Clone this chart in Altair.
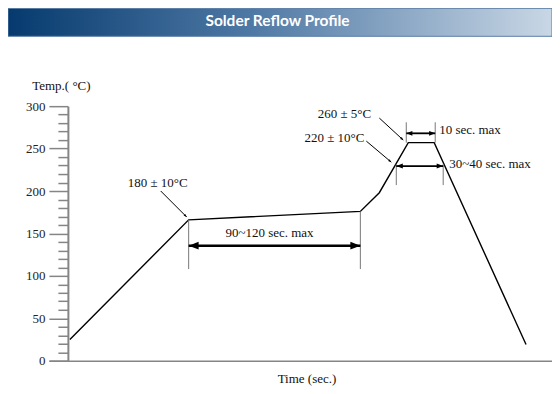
import altair as alt
import pandas as pd

# ---- data (time in arbitrary schematic units, temp in °C) ----
profile_time = [2, 121, 293, 312, 341, 367, 459]
profile_temp = [25, 166, 176, 198, 257, 257, 19]

y_tick_values = list(range(0, 301, 10))

label_text = ["180 ± 10°C", "90~120 sec. max", "260 ± 5°C", "220 ± 10°C", "10 sec. max", "30~40 sec. max"]
label_time = [90, 202, 277, 267, 372, 382]
label_temp = [205, 146, 286, 258, 267, 227]
label_align = ["center", "center", "center", "center", "left", "left"]

# gray bracket (extension) lines
ext_time = [121, 293, 339, 368, 329, 376]
ext_temp_a = [166, 176, 257, 257, 232, 232]
ext_temp_b = [108, 108, 281, 281, 207, 207]

# double-headed dimension arrows
dim_start = [121, 339, 329]
dim_end = [293, 368, 376]
dim_temp = [135.6, 268, 229.4]
dim_width = [2.5, 1.8, 1.8]
dim_head = [400, 150, 170]

# leader lines pointing at the profile
lead_time_a = [93, 312, 299]
lead_temp_a = [200, 286, 258.8]
lead_time_b = [119, 336, 324]
lead_temp_b = [169.4, 260, 234]
lead_angle = [45, 42, 40]

title_text = "Solder Reflow Profile"

SERIF = "Liberation Serif"
AXIS_GRAY = "#858585"

# ---- tables ----
profile = pd.DataFrame({"t": profile_time, "temp": profile_temp})
labels = pd.DataFrame({"text": label_text, "t": label_time, "temp": label_temp, "align": label_align})
ext = pd.DataFrame({"t": ext_time, "a": ext_temp_a, "b": ext_temp_b})
dims = pd.DataFrame({"t1": dim_start, "t2": dim_end, "temp": dim_temp, "w": dim_width})
leads = pd.DataFrame({"t1": lead_time_a, "y1": lead_temp_a, "t2": lead_time_b, "y2": lead_temp_b})

heads_rows = []
for s, e, tp, hs in zip(dim_start, dim_end, dim_temp, dim_head):
    heads_rows.append({"t": e, "temp": tp, "angle": 0, "size": hs})
    heads_rows.append({"t": s, "temp": tp, "angle": 180, "size": hs})
for tb, yb, ang in zip(lead_time_b, lead_temp_b, lead_angle):
    heads_rows.append({"t": tb, "temp": yb, "angle": ang, "size": 40})
heads = pd.DataFrame(heads_rows)

xscale = alt.Scale(domain=[-19, 485], nice=False, zero=False)
yscale = alt.Scale(domain=[0, 300], nice=False)

x_axis = alt.Axis(
    ticks=False, labels=False, grid=False,
    domainColor=AXIS_GRAY, domainWidth=1.5,
    title="Time (sec.)", titleFont=SERIF, titleFontSize=13, titleFontWeight="normal",
    titleColor="#111", titleX=258, titleY=22, titleBaseline="alphabetic", titleAnchor="middle",
)
y_axis = alt.Axis(
    values=y_tick_values, offset=-19, grid=False,
    labelExpr="datum.value % 50 === 0 ? datum.label : ''",
    tickSize={"condition": {"test": "datum.value % 50 === 0", "value": 19}, "value": 10},
    tickColor=AXIS_GRAY, tickWidth=1.5,
    domainColor=AXIS_GRAY, domainWidth=2,
    labelFont=SERIF, labelFontSize=13, labelColor="#222", labelPadding=4,
    title="Temp.( °C)", titleFont=SERIF, titleFontSize=13, titleFontWeight="normal",
    titleColor="#111", titleAngle=0, titleX=-7, titleY=-17, titleAlign="center",
    titleBaseline="alphabetic",
)

def X(field):
    return alt.X(field, scale=xscale, axis=x_axis)

def Y(field):
    return alt.Y(field, scale=yscale, axis=y_axis)

base_profile = alt.Chart(profile).mark_line(color="black", strokeWidth=1.4).encode(
    x=X("t:Q"), y=Y("temp:Q"),
)

ext_layer = alt.Chart(ext).mark_rule(color="#777", strokeWidth=1).encode(
    x=X("t:Q"), y=Y("a:Q"), y2="b:Q"
)

dim_layer = alt.Chart(dims).mark_rule(color="black").encode(
    x=X("t1:Q"), x2="t2:Q", y=Y("temp:Q"),
    strokeWidth=alt.StrokeWidth("w:Q", scale=None),
)

lead_layer = alt.Chart(leads).mark_rule(color="black", strokeWidth=1).encode(
    x=X("t1:Q"), x2="t2:Q", y=Y("y1:Q"), y2="y2:Q",
)

head_layer = alt.Chart(heads).mark_point(
    shape="M0,0L-1,-0.38L-1,0.38Z", filled=True, color="black", opacity=1
).encode(
    x=X("t:Q"), y=Y("temp:Q"),
    angle=alt.Angle("angle:Q", scale=None),
    size=alt.Size("size:Q", scale=None),
)

text_center = alt.Chart(labels).transform_filter("datum.align == 'center'").mark_text(
    font=SERIF, fontSize=13, color="#111", align="center", baseline="alphabetic"
).encode(x=X("t:Q"), y=Y("temp:Q"), text="text:N")

text_left = alt.Chart(labels).transform_filter("datum.align == 'left'").mark_text(
    font=SERIF, fontSize=13, color="#111", align="left", baseline="alphabetic"
).encode(x=X("t:Q"), y=Y("temp:Q"), text="text:N")

title_df = pd.DataFrame({"title": [title_text]})
bar = alt.Chart(title_df).mark_rect(
    fill={
        "gradient": "linear", "x1": 0, "y1": 0, "x2": 1, "y2": 0,
        "stops": [
            {"offset": 0, "color": "#063a6e"},
            {"offset": 0.45, "color": "#4f79a5"},
            {"offset": 1, "color": "#c9d7e5"},
        ],
    },
    stroke="#5b7ea6", strokeWidth=1,
).encode(x=alt.value(-41), x2=alt.value(504), y=alt.value(-98), y2=alt.value(-70))

title_mark = alt.Chart(title_df).mark_text(
    font="Lato", fontSize=15.5, fontWeight="bold", color="white", align="center", baseline="middle"
).encode(x=alt.value(229), y=alt.value(-85), text="title:N")

chart = alt.layer(
    base_profile, bar, title_mark, ext_layer, dim_layer, lead_layer, head_layer, text_center, text_left
).properties(
    width=504, height=255,
    autosize=alt.AutoSizeParams(type="none"),
    padding={"left": 41, "top": 98, "right": 0, "bottom": 28},
    background="white",
).configure_view(stroke=None)

chart.save("out.html", embed_options={"renderer": "svg", "actions": False})
